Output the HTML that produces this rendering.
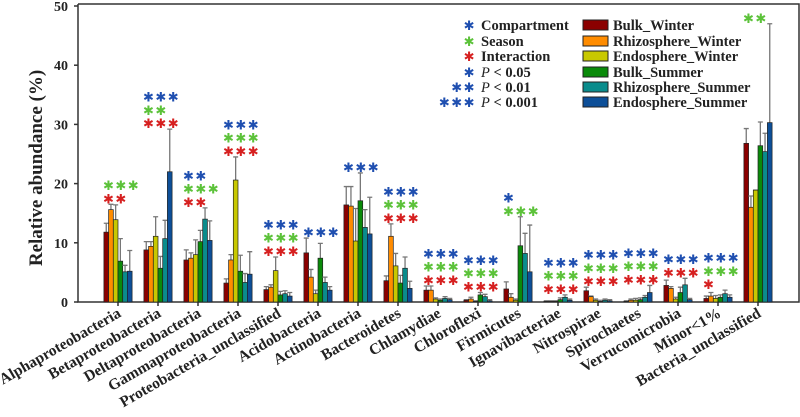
<!DOCTYPE html>
<html><head><meta charset="utf-8"><style>
body{margin:0;background:#fff}
svg{display:block;font-family:"Liberation Serif",serif;font-weight:bold}
</style></head><body>
<svg id="chart" width="800" height="417" viewBox="0 0 800 417"></svg>
<script>
const categories=["Alphaproteobacteria","Betaproteobacteria","Deltaproteobacteria","Gammaproteobacteria","Proteobacteria_unclassified","Acidobacteria","Actinobacteria","Bacteroidetes","Chlamydiae","Chloroflexi","Firmicutes","Ignavibacteriae","Nitrospirae","Spirochaetes","Verrucomicrobia","Minor<1%","Bacteria_unclassified"];
const seriesNames=["Bulk_Winter","Rhizosphere_Winter","Endosphere_Winter","Bulk_Summer","Rhizosphere_Summer","Endosphere_Summer"];
const bulkWinter=[11.8,8.8,7.1,3.2,2.1,8.3,16.4,3.6,2.0,0.3,2.2,0.1,1.9,0.1,2.8,0.6,26.8];
const rhizoWinter=[15.6,9.4,7.4,7.1,2.5,4.2,16.2,11.1,2.0,0.5,0.8,0.1,0.9,0.3,2.3,1.0,16.0];
const endoWinter=[13.9,11.1,8.0,20.6,5.3,1.4,10.3,6.1,0.5,0.1,0.3,0.1,0.3,0.3,0.5,0.6,18.9];
const bulkSummer=[6.9,5.7,10.2,5.2,1.2,7.4,17.1,3.2,0.3,1.2,9.5,0.4,0.1,0.4,1.6,0.8,26.4];
const rhizoSummer=[5.1,10.7,14.0,3.3,1.4,3.3,12.6,5.7,0.6,0.9,8.2,0.8,0.3,0.8,2.9,1.4,25.4];
const endoSummer=[5.2,22.0,10.4,4.7,1.0,2.0,11.5,2.3,0.4,0.2,5.1,0.3,0.2,1.6,0.4,0.8,30.3];
const errBulkWinter=[13.3,10.2,8.8,3.9,2.6,10.8,19.5,4.4,2.7,0.4,3.4,0.2,2.5,0.2,3.7,1.0,29.3];
const errRhizoWinter=[16.5,10.2,8.3,8.0,2.9,5.5,19.5,13.2,2.7,0.8,1.4,0.2,1.0,0.5,2.6,1.6,17.9];
const errEndoWinter=[16.4,14.4,10.5,24.5,7.6,2.0,15.8,8.2,0.7,0.2,0.5,0.2,0.5,0.6,0.8,1.1,18.9];
const errBulkSummer=[10.7,7.7,12.1,7.9,1.8,9.9,21.8,4.5,0.5,1.6,14.4,0.7,0.3,0.7,2.5,1.2,30.4];
const errRhizoSummer=[6.2,13.8,15.9,4.8,1.9,4.2,15.6,7.6,0.9,1.3,11.6,1.2,0.5,1.1,4.0,2.0,28.5];
const errEndoSummer=[8.7,29.2,13.7,8.5,1.6,2.6,17.7,3.5,0.6,0.4,13.0,0.5,0.4,2.8,0.6,1.2,47.0];
const yTicks=[0,10,20,30,40,50];
// significance: star counts per category
const sigBlue=[0,3,2,3,3,3,3,3,3,3,1,3,3,3,3,3,0];
const sigGreen=[3,2,3,3,3,0,0,3,3,3,3,3,3,3,0,3,2];
const sigRed=[2,3,2,3,3,0,0,3,3,3,0,3,3,3,3,1,0];

const values=[bulkWinter,rhizoWinter,endoWinter,bulkSummer,rhizoSummer,endoSummer];
const errs=[errBulkWinter,errRhizoWinter,errEndoWinter,errBulkSummer,errRhizoSummer,errEndoSummer];
const colors=["#8b0000","#ff8c00","#c8c800","#0a8a0a","#0a8c8c","#0d4f98"];
const starColors=["#1f4fb0","#5cc23a","#d62020"];
const NS="http://www.w3.org/2000/svg";
const svg=document.getElementById('chart');
const X0=78,X1=799,Y0=302,Y1=6;
const yScale=v=>Y0-(v/50)*(Y0-Y1);
const xCenter=i=>118+i*40;
const bw=4.7;
function el(tag,attrs,parent){const e=document.createElementNS(NS,tag);for(const k in attrs)e.setAttribute(k,attrs[k]);(parent||svg).appendChild(e);return e;}

const ax=el('path',{d:`M${X0},${Y1-2}V${Y0}H${X1}V${Y1-2}H${X0}`,fill:'none',stroke:'#333','stroke-width':1.5});


yTicks.forEach(t=>{
  const y=yScale(t);
  const tk=el('line',{x1:X0-4,x2:X0,y1:y,y2:y,stroke:'#333','stroke-width':1.5});
  
  
  const lb=el('text',{x:X0-10,y:y+5,'text-anchor':'end','font-size':14,fill:'#222'});
  lb.textContent=t;
  
  
});
const yt=el('text',{transform:'translate(42,168) rotate(-90)','text-anchor':'middle','font-size':19,fill:'#222'});
yt.textContent='Relative abundance (%)';



categories.forEach((c,i)=>{
  const cx=xCenter(i);
  const tk=el('line',{x1:cx,x2:cx,y1:Y0,y2:Y0+4,stroke:'#333','stroke-width':1.5});
  
  
  const lb=el('text',{transform:`translate(${cx+4},${Y0+14}) rotate(-30)`,'text-anchor':'end','font-size':15.5,fill:'#222'});
  lb.textContent=c;
  
  
  const x0=cx-3*bw;
  values.forEach((s,k)=>{
    const v=s[i],e=errs[k][i];
    const bx=x0+k*bw, mx=bx+bw/2;
    const er=el('path',{d:`M${mx},${yScale(v)}V${yScale(e)}M${mx-2.5},${yScale(e)}H${mx+2.5}`,stroke:'#777','stroke-width':1.3,fill:'none'});
    
    
    const r=el('rect',{x:bx,y:yScale(v),width:bw,height:Y0-yScale(v),fill:colors[k],stroke:'#222','stroke-width':0.7});
    
    
  });
  const maxE=Math.max(...errs.map(a=>a[i]));
  const rows=[[sigBlue[i],0],[sigGreen[i],1],[sigRed[i],2]].filter(r=>r[0]>0);
  let y=yScale(maxE)-7-(rows.length-1)*13.3;
  rows.forEach(([n,ci])=>{
    const t=el('text',{x:cx-15,y:y+6,'font-size':13,fill:starColors[ci],'font-family':'DejaVu Sans, sans-serif','letter-spacing':'1.5'});
    t.textContent='✱'.repeat(n);
    
    
    y+=13.3;
  });
});

const starLegend=[["✱","Compartment",0,false],["✱","Season",1,false],["✱","Interaction",2,false],["✱","P < 0.05",0,true],["✱✱","P < 0.01",0,true],["✱✱✱","P < 0.001",0,true]];
const ly=[25,41,56,72,87,102];
starLegend.forEach((s,j)=>{
  const st=el('text',{x:476,y:ly[j]+5,'text-anchor':'end','font-size':13,fill:starColors[s[2]],'font-family':'DejaVu Sans, sans-serif','letter-spacing':'1.5'});
  st.textContent=s[0];
  
  
  const t=el('text',{x:481,y:ly[j]+5,'font-size':14.5,fill:'#222'});
  if(s[3]){const p=el('tspan',{'font-style':'italic','font-weight':'normal'},t);p.textContent='P';const q=el('tspan',{},t);q.textContent=s[1].slice(1);}
  else t.textContent=s[1];
  
  
});
seriesNames.forEach((n,k)=>{
  const r=el('rect',{x:583,y:ly[k]-5,width:25,height:10,fill:colors[k],stroke:'#222','stroke-width':1});
  
  
  const t=el('text',{x:613,y:ly[k]+5,'font-size':14.5,fill:'#222'});
  t.textContent=n;
  
  
});
</script>
</body></html>
